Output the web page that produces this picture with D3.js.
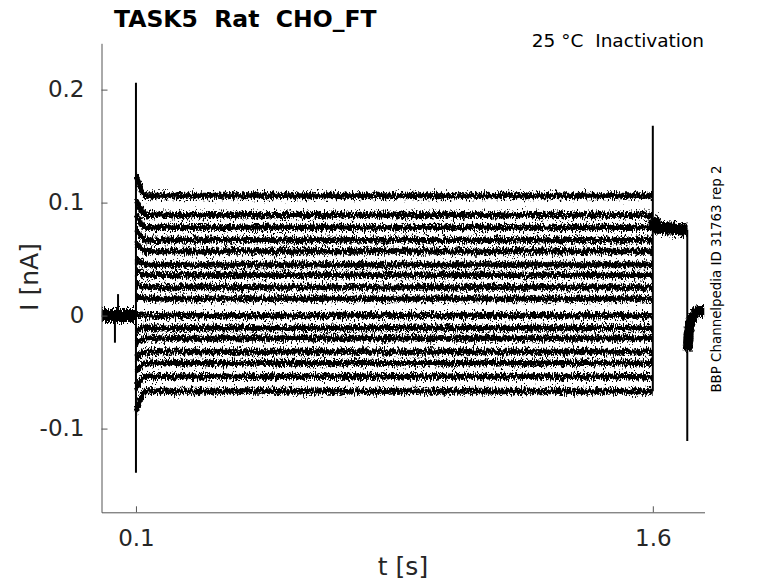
<!DOCTYPE html>
<html>
<head>
<meta charset="utf-8">
<script src="https://cdn.jsdelivr.net/npm/d3@7"></script>
<style>
  body { margin: 0; background: #fff; }
  svg { font-family: "DejaVu Sans", sans-serif; }
</style>
</head>
<body>
<div id="chart"></div>
<script>
/* values */
// current level of each step trace between 0.1 s and 1.6 s (nA)
const stepLevels  = [0.106, 0.089, 0.078, 0.067, 0.057, 0.045, 0.036, 0.025, 0.015, 0.000,
                     -0.011, -0.020, -0.032, -0.042, -0.054, -0.067];
// current just after the step onset (nA)
const onsetLevels = [0.124, 0.102, 0.089, 0.076, 0.064, 0.050, 0.040, 0.028, 0.017, 0.000,
                     -0.013, -0.024, -0.038, -0.050, -0.064, -0.085];
const stepStart = 0.1005, stepSettle = 0.13, stepEnd = 1.5995;

// holding current before the step
const preT = [0.001, 0.0995];
const preI = [0.000, 0.000];
// common test-pulse segment after 1.6 s
const tailT = [1.6005, 1.612, 1.6995];
const tailI = [0.086, 0.078, 0.076];
// recovery after the test pulse
const recT = [1.7015, 1.705, 1.712, 1.72, 1.735, 1.749];
const recI = [-0.030, -0.013, -0.004, 0.001, 0.004, 0.004];

// capacitive transients (vertical spikes)
const spikeT  = [0.039, 0.048, 0.1, 1.6, 1.7];
const spikeHi = [0.000, 0.019, 0.206, 0.168, 0.076];
const spikeLo = [-0.024, 0.000, -0.139, -0.067, -0.111];

const xTicks = [0.1, 1.6];
const yTicks = [-0.1, 0, 0.1, 0.2];

/* canvas */
const W = 778, H = 583;
const svg = d3.select("#chart").append("svg")
    .attr("width", W).attr("height", H);

const x = d3.scaleLinear().domain([0, 1.75]).range([101.5, 704.5]);
const y = d3.scaleLinear().domain([-0.1741, 0.2410]).range([512.3, 43.3]);

/* noise textures for the traces (vertical jitter only) */
const defs = svg.append("defs");
function jitter(id, freq, scale, seed) {
    const f = defs.append("filter").attr("id", id)
        .attr("filterUnits", "userSpaceOnUse")
        .attr("x", 0).attr("y", 0).attr("width", W).attr("height", H)
        .attr("color-interpolation-filters", "sRGB");
    f.append("feTurbulence")
        .attr("type", "fractalNoise")
        .attr("baseFrequency", freq)
        .attr("numOctaves", 2)
        .attr("seed", seed)
        .attr("result", "turb");
    f.append("feColorMatrix")
        .attr("in", "turb")
        .attr("type", "matrix")
        .attr("values", "0 0 0 0 0.5  0 1 0 0 0  0 0 1 0 0  0 0 0 0 1")
        .attr("result", "map");
    f.append("feDisplacementMap")
        .attr("in", "SourceGraphic")
        .attr("in2", "map")
        .attr("scale", scale)
        .attr("xChannelSelector", "R")
        .attr("yChannelSelector", "G");
}
jitter("wobble", "0.9 0.03", 10, 3);
jitter("fringe", "1.1 0.35", 16, 7);

const line = d3.line()
    .x(d => x(d[0]))
    .y(d => y(d[1]));
const smooth = d3.line()
    .x(d => x(d[0]))
    .y(d => y(d[1]))
    .curve(d3.curveMonotoneX);

function drawTraces(filterId, widthStep, widthShared) {
    const g = svg.append("g").attr("filter", `url(#${filterId})`)
        .attr("fill", "none").attr("stroke", "#000");

    // step traces
    g.selectAll("path.step")
        .data(stepLevels.map((v, i) => [[stepStart, onsetLevels[i]], [stepSettle, v], [stepEnd, v]]))
        .enter().append("path")
        .attr("class", "step")
        .attr("d", smooth)
        .attr("stroke-width", widthStep);

    // shared segments, where all 16 sweeps overlap
    g.append("path")
        .attr("d", line(preT.map((t, i) => [t, preI[i]])))
        .attr("stroke-width", widthShared + 2);
    g.append("path")
        .attr("d", line(tailT.map((t, i) => [t, tailI[i]])))
        .attr("stroke-width", widthShared + 1);
    g.append("path")
        .attr("d", smooth(recT.map((t, i) => [t, recI[i]])))
        .attr("stroke-width", widthShared - 1);
}
drawTraces("wobble", 4, 9);
drawTraces("fringe", 5, 11);

// transients
svg.append("g").selectAll("line")
    .data(spikeT.map((t, i) => ({t: t, hi: spikeHi[i], lo: spikeLo[i]})))
    .enter().append("line")
    .attr("x1", d => x(d.t)).attr("x2", d => x(d.t))
    .attr("y1", d => y(d.hi)).attr("y2", d => y(d.lo))
    .attr("stroke", "#000")
    .attr("stroke-width", 2);

/* axes */
const xAxis = svg.append("g")
    .attr("transform", `translate(0, ${y.range()[0]})`)
    .call(d3.axisBottom(x).tickValues(xTicks).tickFormat(d => String(d))
        .tickSizeInner(-6).tickSizeOuter(0).tickPadding(17));
const yAxis = svg.append("g")
    .attr("transform", `translate(${x.range()[0]}, 0)`)
    .call(d3.axisLeft(y).tickValues(yTicks).tickFormat(d => String(d))
        .tickSizeInner(-6).tickSizeOuter(0).tickPadding(17));

[xAxis, yAxis].forEach(a => {
    a.select(".domain").attr("stroke", "#555");
    a.selectAll(".tick line").attr("stroke", "#555");
    a.selectAll(".tick text")
        .attr("fill", "#262626")
        .style("font-family", "DejaVu Sans")
        .style("font-size", "23px");
});

/* labels */
svg.append("text")
    .attr("x", 403).attr("y", 575)
    .attr("text-anchor", "middle")
    .attr("fill", "#262626")
    .style("font-size", "25px")
    .text("t [s]");

svg.append("text")
    .attr("transform", "translate(38, 277) rotate(-90)")
    .attr("text-anchor", "middle")
    .attr("fill", "#262626")
    .style("font-size", "25px")
    .text("I [nA]");

svg.append("text")
    .attr("x", 114).attr("y", 27)
    .attr("fill", "#000")
    .style("font-size", "23.5px")
    .style("font-weight", "bold")
    .text("TASK5\u00A0\u00A0Rat\u00A0\u00A0CHO_FT");

svg.append("text")
    .attr("x", 704).attr("y", 47)
    .attr("text-anchor", "end")
    .attr("fill", "#000")
    .style("font-size", "18.5px")
    .text("25 °C\u00A0\u00A0Inactivation");

svg.append("text")
    .attr("transform", "translate(721, 279) rotate(-90)")
    .attr("text-anchor", "middle")
    .attr("fill", "#000")
    .style("font-size", "13.4px")
    .text("BBP Channelpedia ID 31763 rep 2");
</script>
</body>
</html>
